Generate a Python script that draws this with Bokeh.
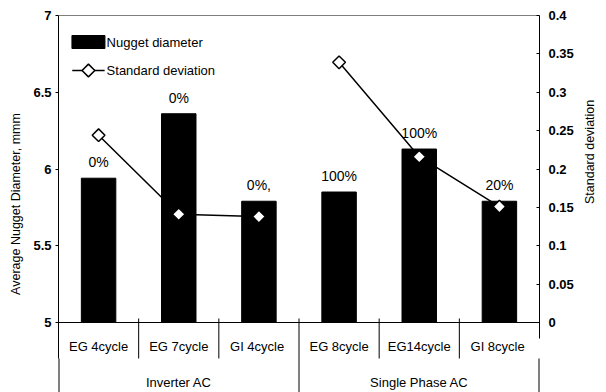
import math
from bokeh.plotting import figure
from bokeh.models import Range1d, LinearAxis, FixedTicker, Span, ColumnDataSource
from bokeh.core.properties import value
from bokeh.embed import file_html
from bokeh.resources import INLINE

# ---------------- data ----------------
categories = ["EG 4cycle", "EG 7cycle", "GI  4cycle", "EG 8cycle", "EG14cycle", "GI  8cycle"]
groups = ["Inverter AC", "Single Phase AC"]
group_sizes = [3, 3]
nugget_diameter = [5.94, 6.36, 5.79, 5.85, 6.13, 5.79]
standard_deviation = [0.244, 0.141, 0.138, 0.339, 0.216, 0.151]
pct_labels = ["0%", "0%", "0%,", "100%", "100%", "20%"]
legend_labels = ["Nugget diameter", "Standard deviation"]
left_ticks = [5, 5.5, 6, 6.5, 7]
right_ticks = [0, 0.05, 0.1, 0.15, 0.2, 0.25, 0.3, 0.35, 0.4]

# ---------------- layout constants ----------------
W, H = 606, 392
FRAME_LEFT, FRAME_RIGHT, FRAME_TOP = 58, 58, 15
Y_MIN, Y_MAX = 5.0, 7.0
SD_MIN, SD_MAX = 0.0, 0.4
AXIS_PX = 307                          # pixels between y=5 and y=7
TABLE_PX = H - FRAME_TOP - AXIS_PX     # table area below the value axis
px_y = (Y_MAX - Y_MIN) / AXIS_PX
px_sd = (SD_MAX - SD_MIN) / AXIS_PX
y_bottom = Y_MIN - TABLE_PX * px_y
sd_bottom = SD_MIN - TABLE_PX * px_sd

n = len(categories)
CAT_PX = (W - FRAME_LEFT - FRAME_RIGHT) / n


def sx(px):
    """screen x (pixels) -> data x"""
    return (px - FRAME_LEFT) / CAT_PX


def sy(py):
    """screen y (pixels) -> data y"""
    return Y_MAX - (py - FRAME_TOP) * px_y


FONT = "Liberation Sans, Arial, sans-serif"

xc = [i + 0.5 for i in range(n)]

p = figure(width=W, height=H, output_backend="svg", toolbar_location=None,
           x_range=Range1d(0, n), y_range=Range1d(y_bottom, Y_MAX),
           x_axis_location=None, y_axis_location=None, title=None,
           min_border_left=FRAME_LEFT, min_border_right=FRAME_RIGHT,
           min_border_top=FRAME_TOP, min_border_bottom=0)
p.extra_y_ranges = {"sd": Range1d(sd_bottom, SD_MAX)}
p.outline_line_color = None
p.xgrid.visible = False
p.ygrid.visible = False
p.background_fill_color = "white"
p.border_fill_color = "white"

# axes (bounds chosen so the titles sit where the reference has them;
# the lines continue down through the category table)
left = LinearAxis(ticker=FixedTicker(ticks=left_ticks), bounds=(Y_MIN - 36 * px_y, Y_MAX),
                  axis_label="Average Nugget Diameter, mmm")
left.major_tick_out = 3
left.major_tick_in = 0
left.major_label_standoff = 4
left.axis_label_standoff = 7
p.add_layout(left, "left")

right = LinearAxis(y_range_name="sd", ticker=FixedTicker(ticks=right_ticks),
                   bounds=(SD_MIN - 16 * px_sd, SD_MAX), axis_label="Standard deviation")
right.major_tick_out = 0
right.major_tick_in = 3
right.major_label_standoff = 9
right.axis_label_standoff = 13
right.axis_label_orientation = math.pi / 2
p.add_layout(right, "right")

for ax in (left, right):
    ax.minor_tick_out = 0
    ax.minor_tick_in = 0
    ax.axis_line_color = "black"
    ax.major_tick_line_color = "black"
    ax.major_label_text_font = FONT
    ax.major_label_text_font_size = "13px"
    ax.major_label_text_font_style = "bold"
    ax.major_label_text_color = "black"
    ax.axis_label_text_font = FONT
    ax.axis_label_text_font_size = "12.5px"
    ax.axis_label_text_font_style = "normal"
    ax.axis_label_text_color = "black"

# frame lines
p.add_layout(Span(location=Y_MAX, dimension="width", line_color="black", line_width=1))
p.add_layout(Span(location=Y_MIN, dimension="width", line_color="black", line_width=1))

# bars
src = ColumnDataSource(dict(x=xc, top=nugget_diameter, sd=standard_deviation,
                            lab=pct_labels, cat=categories))
bars = p.vbar(x="x", top="top", bottom=Y_MIN, width=0.43, source=src,
              fill_color="black", line_color="black")

# group boundaries
bounds = [0]
for s in group_sizes:
    bounds.append(bounds[-1] + s)

# standard deviation: one polyline per group
sd_xs = [xc[bounds[g]:bounds[g + 1]] for g in range(len(groups))]
sd_ys = [standard_deviation[bounds[g]:bounds[g + 1]] for g in range(len(groups))]
p.multi_line(xs=sd_xs, ys=sd_ys, y_range_name="sd", line_color="black", line_width=1.5)
p.scatter(x="x", y="sd", source=src, y_range_name="sd", marker="square",
          angle=math.pi / 4, size=9, fill_color="white",
          line_color="black", line_width=1.5)

# percentage labels above bars
p.text(x="x", y="top", text="lab", source=src, text_align="center",
       text_baseline="bottom", y_offset=-8, text_font=value(FONT),
       text_font_size="14px", text_color="black")

# category table under the axis
sep_top = Y_MIN + 4 * px_y
cat_y = Y_MIN - 24 * px_y
cat_sep_bottom = Y_MIN - 36 * px_y
grp_y = Y_MIN - 60 * px_y

p.text(x="x", y=cat_y, text="cat", source=src, text_align="center",
       text_baseline="middle", text_font=value(FONT), text_font_size="13px",
       text_color="black")

inner = [i for i in range(1, n) if i not in bounds]
p.segment(x0=inner, x1=inner, y0=[sep_top] * len(inner), y1=[cat_sep_bottom] * len(inner),
          line_color="black", line_width=1)
mid_groups = bounds[1:-1]
p.segment(x0=mid_groups, x1=mid_groups, y0=[sep_top] * len(mid_groups),
          y1=[y_bottom] * len(mid_groups), line_color="black", line_width=1)
edges = [bounds[0], bounds[-1]]
p.segment(x0=edges, x1=edges, y0=[Y_MIN - 36 * px_y] * 2, y1=[y_bottom] * 2,
          line_color="black", line_width=2)

grp_x = [(bounds[i] + bounds[i + 1]) / 2 for i in range(len(groups))]
p.text(x=grp_x, y=[grp_y] * len(groups), text=groups, text_align="center",
       text_baseline="middle", text_font=value(FONT), text_font_size="13px",
       text_color="black")

# legend (top-left, inside the frame)
p.rect(x=sx(88.5), y=sy(41.5), width=33, height=13, width_units="screen",
       height_units="screen", fill_color="black", line_color="black")
p.segment(x0=[sx(72)], x1=[sx(105)], y0=[sy(70)], y1=[sy(70)],
          line_color="black", line_width=1.5)
p.scatter(x=[sx(88.5)], y=[sy(70)], marker="square", angle=math.pi / 4, size=9,
          fill_color="white", line_color="black", line_width=1.5)
p.text(x=[sx(107)] * 2, y=[sy(42), sy(70)], text=legend_labels, text_align="left",
       text_baseline="middle", text_font=value(FONT), text_font_size="13px",
       text_color="black")

open("out.html", "w").write(file_html(p, INLINE))
